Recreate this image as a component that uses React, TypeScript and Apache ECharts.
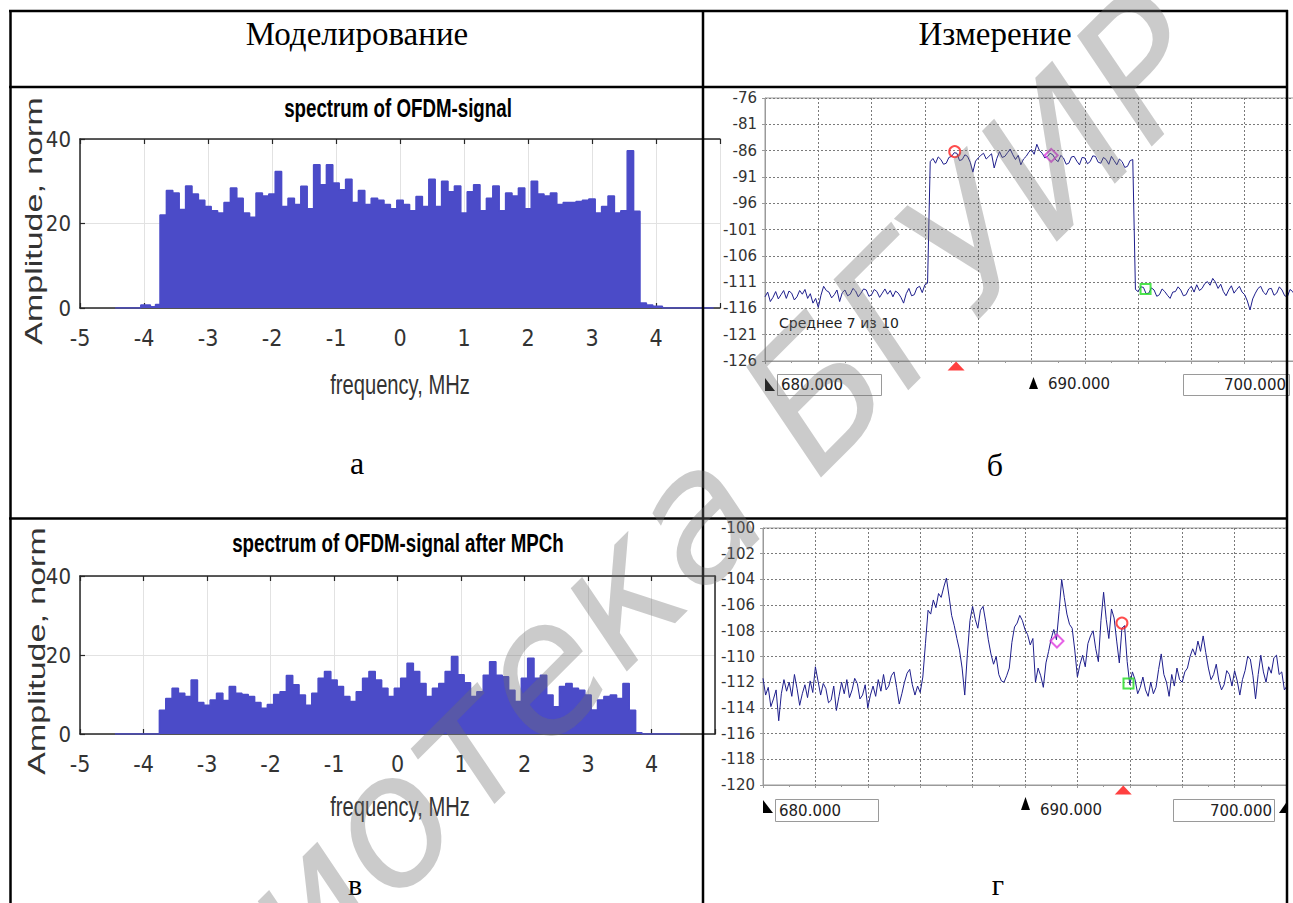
import React, { useEffect, useRef } from "react";
import * as echarts from "echarts";

// ---------- texts ----------
const headerLeft = "Моделирование";
const headerRight = "Измерение";
const panelLetters = ["а", "б", "в", "г"];
const simTitles = ["spectrum of OFDM-signal", "spectrum of OFDM-signal after MPCh"];
const simXName = "frequency, MHz";
const simYName = "Amplitude, norm";
const avgNote = "Среднее 7 из 10";
const freqBoxes = ["680.000", "690.000", "700.000"];
const watermark = "Библиотека БГУИР";

// ---------- simulated spectra (MHz, normalized amplitude) ----------
const binStart = -3.75; // left edge of first 0.1 MHz bin
const binWidth = 0.1;
// panel a: bins centred at -3.7 ... 3.7
const specA = [
  22, 27.8, 27.2, 23.3, 28.9, 27, 25.5, 24, 23, 22.5,
  25, 28.4, 26, 22.5, 21.5, 27.2, 26.5, 27, 32.3, 24,
  26, 24.5, 28.8, 23.5, 33.9, 29.2, 33.9, 29.6, 28, 30.5,
  25, 27.8, 24.5, 26, 25.5, 24.5, 23.5, 25.5, 24.5, 23,
  26.4, 24, 30.5, 24, 30, 27.5, 28.9, 22.5, 27.5, 29.2,
  23, 26, 28.9, 23, 27.2, 26.5, 28.4, 23.5, 30, 27,
  26.5, 27.2, 24.5, 25, 25, 25.2, 25.5, 25.8, 22.5, 24,
  26.5, 22.5, 23, 37.2, 22.9,
];
const outLeftA = [[-4.45, 0], [-4.05, 0.7], [-3.9, 0.3], [-3.82, 0.8]];
const outRightA = [[3.75, 1.2], [3.85, 0.7], [3.95, 0.4], [4.1, 0], [4.9, 0]];
// panel в
const specB = [
  6, 9, 11.6, 10.3, 9.5, 13.7, 8, 7.3, 8.6, 10.3,
  8.5, 12, 10.3, 10, 9.5, 8, 6.5, 7.5, 10, 10.7,
  14.8, 12.5, 9.9, 7.3, 10.3, 14.1, 15.8, 13.7, 12, 9.5,
  8.2, 10.7, 14.1, 15.8, 13.7, 11.6, 9.5, 11.6, 14.1, 17.9,
  15.8, 12.8, 9.5, 11.6, 12.8, 15.8, 19.6, 15, 13, 9.5,
  10.7, 14.9, 18.3, 14.9, 14.5, 11.1, 8.2, 14.1, 19.2, 14.1,
  14.9, 9.9, 6.9, 12, 12.8, 11.6, 11.1, 9.9, 6.1, 8.6,
  9.5, 9.9, 9, 12.8, 6,
];
const outLeftB = [[-4.45, 0]];
const outRightB = [[3.75, 0.3], [3.85, 0], [4.45, 0]];

// ---------- measured spectra (MHz, dBm), 0.1 MHz steps from 680 to 700 ----------
const measStart = 680;
const measStep = 0.1;
const measB = [
  -113.8, -112.9, -114.7, -113.9, -112.8, -114.2, -113.4, -112.6, -114.1, -112.7,
  -113.1, -114.4, -113.8, -112.6, -113.3, -112.4, -114.1, -113.2, -115.0, -114.1,
  -115.8, -113.5, -111.8, -112.6, -112.9, -114.0, -113.4, -112.5, -114.7, -113.0,
  -112.5, -113.6, -113.3, -112.2, -112.7, -113.8, -113.1, -112.3, -112.5, -113.7,
  -113.4, -112.4, -112.8, -113.9, -113.1, -112.3, -113.3, -112.6, -113.8, -112.7,
  -113.1, -113.9, -115.0, -113.2, -112.2, -113.6, -113.4, -112.1, -111.8, -113.0,
  -111.5, -111.2, -88.1, -87.5, -88.4, -87.2, -87.7, -88.6, -88.4, -87.3,
  -87.1, -86.4, -86.5, -87.9, -87.7, -86.8, -87.1, -88.2, -90.1, -88.0,
  -87.4, -86.9, -86.5, -87.6, -87.1, -86.6, -89.3, -87.5, -86.2, -87.3,
  -87.1, -86.4, -85.7, -86.8, -87.7, -86.9, -88.7, -87.6, -87.1, -86.3,
  -85.8, -86.7, -84.8, -86.0, -86.5, -87.4, -87.1, -86.5, -86.8, -87.7,
  -88.1, -86.9, -87.4, -88.6, -88.4, -87.2, -87.1, -88.0, -88.7, -87.3,
  -87.4, -88.5, -88.1, -87.0, -87.1, -88.2, -88.4, -87.3, -87.7, -88.6,
  -87.1, -87.9, -88.7, -87.6, -88.1, -89.2, -89.0, -87.9, -87.7, -112.4,
  -112.8, -111.9, -112.0, -113.2, -113.1, -112.1, -112.5, -113.7, -113.4, -112.3,
  -112.8, -113.5, -114.1, -112.9, -112.8, -111.9, -112.5, -113.6, -113.4, -112.3,
  -111.8, -112.9, -111.5, -112.6, -112.2, -111.3, -110.9, -111.6, -110.3, -111.0,
  -112.2, -111.4, -112.8, -113.6, -112.5, -111.7, -113.1, -112.4, -111.8, -112.9,
  -113.4, -114.6, -116.3, -114.2, -113.1, -112.2, -111.8, -112.9, -113.4, -112.3,
  -112.2, -113.5, -113.1, -111.9, -112.5, -113.6, -113.8, -112.4, -112.8, -113.7,
  -113.2,
];
const measG = [
  -111.7, -113.0, -112.4, -113.9, -113.3, -112.6, -115.0, -112.9, -111.8, -112.7,
  -112.0, -113.1, -111.4, -112.5, -113.8, -112.9, -112.2, -113.2, -111.9, -112.8,
  -110.8, -111.9, -113.0, -112.1, -112.5, -113.6, -113.4, -112.3, -114.2, -113.1,
  -112.0, -112.9, -111.8, -113.2, -112.6, -111.7, -112.1, -113.3, -113.0, -112.2,
  -114.0, -113.0, -112.3, -113.1, -111.8, -112.7, -111.4, -112.6, -112.3, -111.5,
  -111.2, -112.4, -113.7, -112.9, -112.0, -111.3, -111.0, -112.2, -113.0, -112.3,
  -112.8, -111.6, -109.0, -106.4, -106.7, -105.6, -106.2, -105.1, -105.4, -104.6,
  -103.9, -105.3, -106.8, -107.6, -108.6, -109.5, -110.9, -113.0, -109.8, -107.2,
  -106.1, -107.1, -107.8, -106.4, -106.1, -107.3, -108.7, -109.8, -110.6, -110.0,
  -111.4, -111.9, -112.0, -111.5, -110.9, -108.9, -107.7, -107.4, -106.8, -107.2,
  -107.9, -108.3, -109.1, -108.6, -112.0, -110.9, -111.5, -112.4, -110.5, -109.6,
  -108.6, -107.9, -108.7, -106.5, -104.0, -105.4, -106.7, -107.5, -107.8, -109.5,
  -111.6, -110.6, -109.9, -110.8, -109.0, -108.4, -108.0, -109.4, -110.4, -107.2,
  -105.0, -107.1, -108.6, -106.3, -107.0, -108.8, -110.5, -107.8, -107.6, -110.4,
  -112.2, -111.2, -111.8, -112.9, -112.4, -111.6, -112.6, -113.1, -112.0, -112.9,
  -112.4, -111.0, -109.8, -111.4, -112.0, -113.1, -111.4, -112.3, -110.9, -111.8,
  -112.0, -111.2, -110.9, -110.0, -109.4, -109.9, -108.8, -109.6, -108.4, -109.7,
  -110.9, -111.8, -111.4, -110.6, -111.9, -112.6, -112.2, -111.1, -111.4, -112.3,
  -111.1, -111.9, -113.0, -111.8, -111.1, -110.0, -110.2, -111.5, -113.3, -111.4,
  -109.9, -111.2, -112.0, -110.8, -111.3, -110.1, -109.9, -111.4, -111.2, -112.6,
  -112.3,
];
// markers [MHz, dBm]
const markersB = { circle: [687.12, -86.2], diamond: [690.74, -86.9], square: [694.28, -112.3], tri: 687.17 };
const markersG = { circle: [693.7, -107.4], diamond: [691.22, -108.8], square: [693.95, -112.1], tri: 693.75 };
// analyzer axes
const axisB = { base: -126, step: 5, span: 50 };
const axisG = { base: -120, step: 2, span: 20 };

// ---------- styles ----------
const NARROW = '"Liberation Sans Narrow","Arial Narrow","DejaVu Sans Condensed",sans-serif';
const LSANS = '"Liberation Sans",Arial,sans-serif';
const SANS = '"DejaVu Sans",Verdana,sans-serif';
const SERIF = '"Liberation Serif","Times New Roman",serif';
const BLUE = "#4b4bc8";
const AX = "#262626";
const GRIDC = "#9a9a9a";
const TRACE = "#1e1e8c";

function simData(outL: number[][], vals: number[], outR: number[][]) {
  return [
    ...outL,
    ...vals.map((v, i) => [Math.round((binStart + i * binWidth) * 1000) / 1000, v]),
    ...outR,
  ];
}
function measData(vals: number[], base: number) {
  return vals.map((v, i) => [Math.round((measStart + i * measStep) * 100) / 100, v - base]);
}

function simX(gridIndex: number) {
  return {
    gridIndex, type: "value", min: -5, max: 5, interval: 1, position: "bottom",
    axisLine: { show: true, onZero: false, lineStyle: { color: AX, width: 1.5 } },
    axisTick: { show: true, inside: true, length: 5, lineStyle: { color: AX, width: 1.2 } },
    axisLabel: { show: true, margin: 18, fontFamily: NARROW, fontSize: 23, color: "#333",
      formatter: (v: number) => (v === 5 ? "" : String(v)) },
    splitLine: { show: true, lineStyle: { color: "#e2e2e2", width: 1 } },
  };
}
function simXTop(gridIndex: number) {
  return {
    gridIndex, type: "value", min: -5, max: 5, interval: 1, position: "top",
    axisLine: { show: true, onZero: false, lineStyle: { color: AX, width: 1.5 } },
    axisTick: { show: true, inside: true, length: 5, lineStyle: { color: AX, width: 1.2 } },
    axisLabel: { show: false }, splitLine: { show: false },
  };
}
function simY(gridIndex: number) {
  return {
    gridIndex, type: "value", min: 0, max: 40, interval: 20, position: "left",
    axisLine: { show: true, onZero: false, lineStyle: { color: AX, width: 1.5 } },
    axisTick: { show: true, inside: true, length: 5, lineStyle: { color: AX, width: 1.2 } },
    axisLabel: { show: true, margin: 9, fontFamily: NARROW, fontSize: 22, color: "#333" },
    splitLine: { show: true, lineStyle: { color: "#e2e2e2", width: 1 } },
  };
}
function measX(gridIndex: number) {
  return {
    gridIndex, type: "value", min: 680, max: 700, interval: 2,
    axisLine: { show: true, onZero: false, lineStyle: { color: GRIDC } },
    axisTick: { show: true, length: 3, lineStyle: { color: GRIDC } },
    minorTick: { show: true, splitNumber: 2, length: 2, lineStyle: { color: GRIDC } },
    axisLabel: { show: false },
    splitLine: { show: true, lineStyle: { color: "#7a7a7a", type: [2, 2], width: 1 } },
  };
}
function measY(gridIndex: number, ax: { base: number; step: number; span: number }) {
  return {
    gridIndex, type: "value", min: 0, max: ax.span, interval: ax.step,
    axisLine: { show: true, onZero: false, lineStyle: { color: GRIDC } },
    axisTick: { show: true, length: 3, lineStyle: { color: GRIDC } },
    axisLabel: { show: true, margin: 8, fontFamily: SANS, fontSize: 15, color: "#333",
      formatter: (v: number) => String(Math.round(v + ax.base)) },
    splitLine: { show: true, lineStyle: { color: "#7a7a7a", type: [2, 2], width: 1 } },
  };
}
function simSeries(data: number[][], xi: number, yi: number) {
  return {
    type: "line", xAxisIndex: xi, yAxisIndex: yi, data, step: "end", symbol: "none",
    lineStyle: { color: BLUE, width: 1.5 }, areaStyle: { color: BLUE, opacity: 1 }, z: 3,
  };
}
function measSeries(vals: number[], ax: { base: number }, xi: number, yi: number) {
  return {
    type: "line", xAxisIndex: xi, yAxisIndex: yi, data: measData(vals, ax.base), symbol: "none",
    lineStyle: { color: TRACE, width: 1 }, z: 3,
  };
}
function markerSeries(m: any, ax: { base: number }, xi: number, yi: number) {
  const common = { type: "scatter", xAxisIndex: xi, yAxisIndex: yi, z: 5, clip: false };
  return [
    { ...common, data: [[m.circle[0], m.circle[1] - ax.base]], symbol: "circle", symbolSize: 11,
      itemStyle: { color: "rgba(255,255,255,0)", borderColor: "#ff2020", borderWidth: 2 } },
    { ...common, data: [[m.diamond[0], m.diamond[1] - ax.base]], symbol: "diamond", symbolSize: 13,
      itemStyle: { color: "rgba(255,255,255,0)", borderColor: "#e03ce0", borderWidth: 2 } },
    { ...common, data: [[m.square[0], m.square[1] - ax.base]], symbol: "rect", symbolSize: 10,
      itemStyle: { color: "rgba(255,255,255,0)", borderColor: "#22dd22", borderWidth: 2 } },
    { ...common, data: [[m.tri, 0]], symbol: "triangle", symbolSize: [17, 9], symbolOffset: [0, 5],
      itemStyle: { color: "#ff1010" } },
  ];
}

function txt(text: string, x: number, y: number, s: any, extra: any = {}) {
  return {
    type: "text", x, y, z: 110, ...extra,
    style: { text, fill: "#000", align: "center", verticalAlign: "middle",
      textAlign: "center", textVerticalAlign: "middle", ...s },
  };
}
function hline(x1: number, x2: number, y: number) {
  return { type: "line", z: 100, shape: { x1, y1: y, x2, y2: y }, style: { stroke: "#000", lineWidth: 2.5 } };
}
function vline(x: number, y1: number, y2: number) {
  return { type: "line", z: 100, shape: { x1: x, y1, x2: x, y2 }, style: { stroke: "#000", lineWidth: 2.5 } };
}
function box(x: number, y: number, w: number, h: number) {
  return { type: "rect", z: 60, shape: { x, y, width: w, height: h }, style: { fill: "#fff", stroke: "#9a9a9a", lineWidth: 1 } };
}
function poly(points: number[][]) {
  return { type: "polygon", z: 60, shape: { points }, style: { fill: "#000" } };
}

function buildOption() {
  const boxText = { fontFamily: SANS, fontSize: 15, fill: "#222" };
  const graphics: any[] = [
    // table
    vline(10.5, 10, 903), vline(703, 10, 903), vline(1287, 10, 903),
    hline(9, 1288, 11), hline(9, 1288, 87), hline(9, 1288, 518.5),
    // headers and panel letters
    txt(headerLeft, 357, 34, { fontFamily: SERIF, fontSize: 33 }),
    txt(headerRight, 995, 34, { fontFamily: SERIF, fontSize: 33 }),
    txt(panelLetters[0], 357, 463, { fontFamily: SERIF, fontSize: 32 }),
    txt(panelLetters[1], 995, 465, { fontFamily: SERIF, fontSize: 32 }),
    txt(panelLetters[2], 355, 884, { fontFamily: SERIF, fontSize: 30 }),
    txt(panelLetters[3], 998, 884, { fontFamily: SERIF, fontSize: 30 }),
    // simulation titles & axis names
    txt(simTitles[0], 398, 108, { fontFamily: LSANS, fontSize: 26, fontWeight: "bold" }, { scaleX: 0.72 }),
    txt(simTitles[1], 398, 543, { fontFamily: LSANS, fontSize: 26, fontWeight: "bold" }, { scaleX: 0.72 }),
    txt(simXName, 400, 384, { fontFamily: LSANS, fontSize: 28, fill: "#333" }, { scaleX: 0.72 }),
    txt(simXName, 400, 806, { fontFamily: LSANS, fontSize: 28, fill: "#333" }, { scaleX: 0.72 }),
    txt(simYName, 33, 221, { fontFamily: LSANS, fontSize: 34, fill: "#333" }, { rotation: Math.PI / 2, scaleY: 0.72 }),
    txt(simYName, 36, 651, { fontFamily: LSANS, fontSize: 34, fill: "#333" }, { rotation: Math.PI / 2, scaleY: 0.72 }),
    // analyzer annotations (top)
    txt(avgNote, 779, 323, { fontFamily: SANS, fontSize: 14, fill: "#222", align: "left", textAlign: "left" }),
    poly([[765, 391], [765, 378], [775, 391]]),
    box(777.5, 374.5, 104, 21),
    txt(freqBoxes[0], 781, 385, { ...boxText, align: "left", textAlign: "left" }, { z: 61 }),
    poly([[1029, 389], [1038, 389], [1033.5, 377]]),
    txt(freqBoxes[1], 1048, 384, { ...boxText, align: "left", textAlign: "left" }, { z: 61 }),
    box(1183.5, 374.5, 106, 21),
    txt(freqBoxes[2], 1286, 385, { ...boxText, align: "right", textAlign: "right" }, { z: 61 }),
    // analyzer annotations (bottom)
    poly([[763, 813], [763, 800], [773, 813]]),
    box(775.5, 799.5, 103, 22),
    txt(freqBoxes[0], 779, 811, { ...boxText, align: "left", textAlign: "left" }, { z: 61 }),
    poly([[1021, 810], [1030, 810], [1025.5, 797]]),
    txt(freqBoxes[1], 1040, 810, { ...boxText, align: "left", textAlign: "left" }, { z: 61 }),
    box(1173.5, 799.5, 101, 22),
    txt(freqBoxes[2], 1272, 811, { ...boxText, align: "right", textAlign: "right" }, { z: 61 }),
    poly([[1288, 800], [1288, 813], [1279, 813]]),
    // watermark
    {
      type: "text", x: 558, y: 652, z: 200, rotation: Math.PI / 4,
      style: { text: watermark, fill: "rgba(110,110,110,0.36)", fontFamily: SANS, fontSize: 180,
        fontStyle: "italic", align: "center", verticalAlign: "middle", textAlign: "center", textVerticalAlign: "middle" },
    },
  ];

  return {
    animation: false,
    backgroundColor: "#ffffff",
    grid: [
      { left: 80, top: 139, width: 640, height: 169, show: false, outerBoundsMode: "none" },
      { left: 80, top: 576, width: 635, height: 158, show: false, outerBoundsMode: "none" },
      { left: 765, top: 98, width: 533, height: 263, show: true, borderColor: GRIDC, borderWidth: 1, outerBoundsMode: "none" },
      { left: 763, top: 528, width: 524, height: 257, show: true, borderColor: GRIDC, borderWidth: 1, outerBoundsMode: "none" },
    ],
    xAxis: [simX(0), simXTop(0), simX(1), simXTop(1), measX(2), measX(3)],
    yAxis: [
      simY(0), simY(1),
      { gridIndex: 1, type: "value", min: 0, max: 40, interval: 20, position: "right",
        axisLine: { show: true, onZero: false, lineStyle: { color: AX, width: 1.5 } },
        axisTick: { show: false }, axisLabel: { show: false }, splitLine: { show: false } },
      measY(2, axisB), measY(3, axisG),
    ],
    series: [
      simSeries(simData(outLeftA, specA, outRightA), 0, 0),
      simSeries(simData(outLeftB, specB, outRightB), 2, 1),
      measSeries(measB, axisB, 4, 3),
      measSeries(measG, axisG, 5, 4),
      ...markerSeries(markersB, axisB, 4, 3),
      ...markerSeries(markersG, axisG, 5, 4),
    ],
    graphic: graphics,
  };
}

export default function App() {
  const ref = useRef<HTMLDivElement>(null);
  useEffect(() => {
    if (!ref.current) return;
    const chart = echarts.init(ref.current, null, { renderer: "svg" });
    chart.setOption(buildOption() as any);
    return () => chart.dispose();
  }, []);
  return (
    <div
      ref={ref}
      style={{ position: "fixed", left: 0, top: 0, width: 1293, height: 903, background: "#fff" }}
    />
  );
}
